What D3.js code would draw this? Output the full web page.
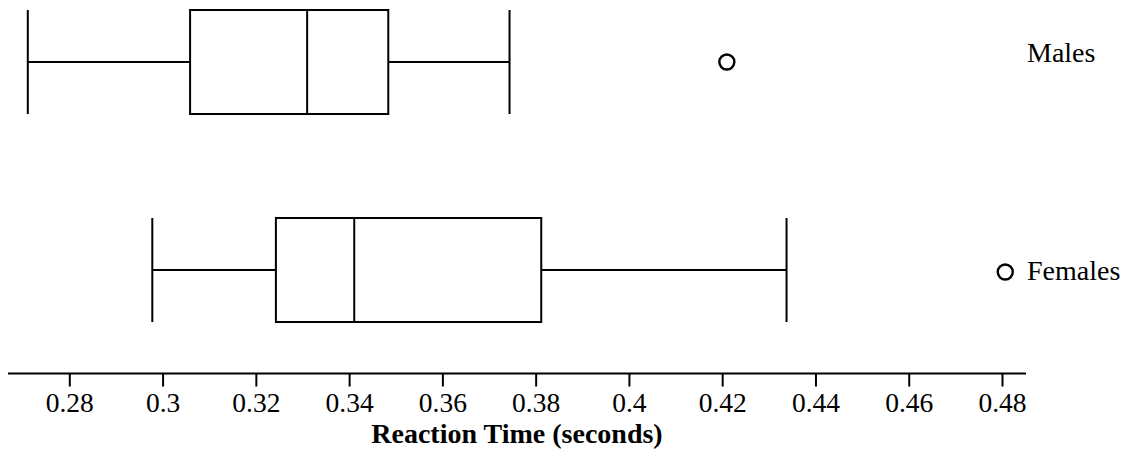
<!DOCTYPE html>
<html>
<head>
<meta charset="utf-8">
<script src="https://cdn.jsdelivr.net/npm/d3@7"></script>
<style>
  body { margin: 0; background: #fff; }
</style>
</head>
<body>
<div id="chart"></div>
<script>
// groups, top to bottom
var groups = ["Males", "Females"];
// five-number summaries (seconds)
var mins    = [0.2711, 0.2978];
var q1s     = [0.3059, 0.3243];
var medians = [0.3310, 0.3411];
var q3s     = [0.3484, 0.3812];
var maxs    = [0.3744, 0.4338];
var outliers = [0.4210, 0.4807];
var tickValues = [0.28, 0.30, 0.32, 0.34, 0.36, 0.38, 0.40, 0.42, 0.44, 0.46, 0.48];
var tickLabels = ["0.28", "0.3", "0.32", "0.34", "0.36", "0.38", "0.4", "0.42", "0.44", "0.46", "0.48"];

var width = 1128, height = 453;
var axisY = 373.5;
var serif = "Liberation Serif";

var svg = d3.select("#chart").append("svg")
    .attr("width", width)
    .attr("height", height)
    .style("display", "block");

var x = d3.scaleLinear()
    .domain([0.28, 0.48])
    .range([69.3, 1002]);

var y = d3.scaleBand()
    .domain(groups)
    .range([10, 322])
    .paddingInner(0.5)
    .paddingOuter(0);

var rows = groups.map(function (g, i) {
    return {name: g, min: mins[i], q1: q1s[i], med: medians[i], q3: q3s[i], max: maxs[i], out: outliers[i]};
});

var box = svg.selectAll("g.box")
    .data(rows)
    .enter().append("g")
    .attr("class", "box")
    .attr("fill", "none")
    .attr("stroke", "#000")
    .attr("stroke-width", 2);

// whisker line
box.append("line")
    .attr("x1", function (d) { return x(d.min); })
    .attr("x2", function (d) { return x(d.max); })
    .attr("y1", function (d) { return y(d.name) + y.bandwidth() / 2; })
    .attr("y2", function (d) { return y(d.name) + y.bandwidth() / 2; });

// whisker caps
["min", "max"].forEach(function (k) {
    box.append("line")
        .attr("x1", function (d) { return x(d[k]); })
        .attr("x2", function (d) { return x(d[k]); })
        .attr("y1", function (d) { return y(d.name); })
        .attr("y2", function (d) { return y(d.name) + y.bandwidth(); });
});

box.append("rect")
    .attr("x", function (d) { return x(d.q1); })
    .attr("width", function (d) { return x(d.q3) - x(d.q1); })
    .attr("y", function (d) { return y(d.name); })
    .attr("height", y.bandwidth())
    .attr("fill", "#fff");

box.append("line")
    .attr("x1", function (d) { return x(d.med); })
    .attr("x2", function (d) { return x(d.med); })
    .attr("y1", function (d) { return y(d.name); })
    .attr("y2", function (d) { return y(d.name) + y.bandwidth(); });

box.append("circle")
    .attr("cx", function (d) { return x(d.out); })
    .attr("cy", function (d, i) { return y(d.name) + y.bandwidth() / 2 + (i === 1 ? 2 : 0); })
    .attr("r", 7.5)
    .attr("stroke-width", 2.4);

// group labels
svg.selectAll("text.group")
    .data(rows)
    .enter().append("text")
    .attr("class", "group")
    .attr("x", 1027)
    .attr("y", function (d, i) { return y(d.name) + y.bandwidth() / 2 + (i === 0 ? 0 : 10); })
    .attr("font-family", serif)
    .attr("font-size", 28)
    .attr("fill", "#000")
    .text(function (d) { return d.name; });

// axis
var axis = d3.axisBottom(x)
    .tickValues(tickValues)
    .tickSize(13)
    .tickSizeOuter(0)
    .tickPadding(6)
    .tickFormat(function (d, i) { return tickLabels[i]; });

var gAxis = svg.append("g")
    .attr("transform", "translate(0," + axisY + ")")
    .call(axis)
    .attr("font-family", serif);

gAxis.select(".domain").remove();
gAxis.append("line")
    .attr("x1", 8)
    .attr("x2", 1026)
    .attr("stroke", "#000")
    .attr("stroke-width", 2);
gAxis.selectAll(".tick line")
    .attr("stroke", "#000")
    .attr("stroke-width", 2);
gAxis.selectAll(".tick text")
    .attr("font-family", serif)
    .attr("font-size", 27.5)
    .attr("fill", "#000");

svg.append("text")
    .attr("x", (8 + 1026) / 2)
    .attr("y", 443)
    .attr("text-anchor", "middle")
    .attr("font-family", serif)
    .attr("font-size", 28)
    .attr("font-weight", "bold")
    .attr("fill", "#000")
    .text("Reaction Time (seconds)");
</script>
</body>
</html>
